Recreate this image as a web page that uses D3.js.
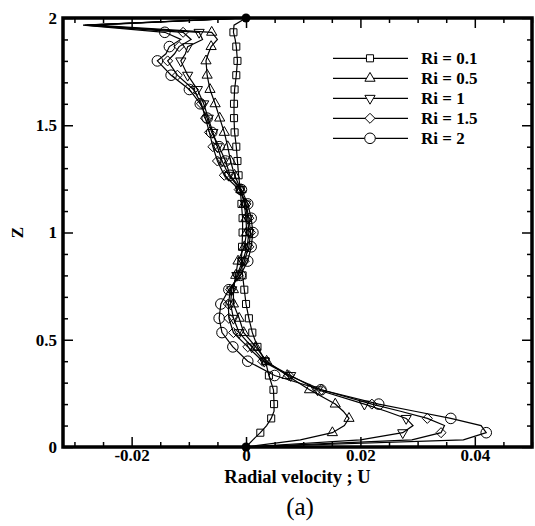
<!DOCTYPE html>
<html>
<head>
<meta charset="utf-8">
<script src="https://cdn.jsdelivr.net/npm/d3@7"></script>
<style>
  html, body { margin: 0; padding: 0; background: #fff; }
  svg { display: block; }
  text { font-family: "Liberation Serif", "Times New Roman", serif; fill: #000; }
</style>
</head>
<body>
<svg id="chart" width="535" height="526"></svg>
<script>
// Axial positions of the profile nodes (z), shared by every series
const zNodes = [0, 0.0333, 0.0667, 0.1, 0.1333, 0.1667, 0.2, 0.2667, 0.3333, 0.4,
  0.4667, 0.5333, 0.6, 0.6667, 0.7333, 0.8, 0.8667, 0.9333, 1, 1.0667, 1.1333, 1.2,
  1.2667, 1.3333, 1.4, 1.4667, 1.5333, 1.6, 1.6667, 1.7333, 1.8, 1.8333, 1.8667,
  1.9, 1.9333, 1.9667, 2];

// Radial velocity U at each node, one array per Richardson number
const uRi01 = [0, 0.0012, 0.0025, 0.0036, 0.0044, 0.0049, 0.0049, 0.0048, 0.0040, 0.0034,
  0.0020, 0.0011, 0.0005, 0.0000, -0.0003, -0.0006, -0.0008, -0.0007, -0.0006, -0.0006,
  -0.0008, -0.0010, -0.0013, -0.0015, -0.0017, -0.0020, -0.0021, -0.0021, -0.0020,
  -0.0017, -0.0015, -0.0016, -0.0017, -0.0019, -0.0022, -0.0021, 0];
const uRi05 = [0, 0.0095, 0.0151, 0.0172, 0.0180, 0.0170, 0.0156, 0.0111, 0.0072, 0.0036,
  0.0017, -0.0004, -0.0012, -0.0022, -0.0022, -0.0018, -0.0014, -0.0003, 0.0001, 0.0000,
  -0.0003, -0.0009, -0.0020, -0.0027, -0.0032, -0.0038, -0.0046, -0.0054, -0.0063,
  -0.0068, -0.0070, -0.0066, -0.0061, -0.0050, -0.0060, -0.0265, 0];
const uRi1 = [0, 0.0200, 0.0274, 0.0292, 0.0280, 0.0245, 0.0207, 0.0125, 0.0078, 0.0032,
  0.0010, -0.0012, -0.0022, -0.0027, -0.0025, -0.0016, -0.0006, 0.0002, 0.0005, 0.0003,
  -0.0001, -0.0010, -0.0030, -0.0042, -0.0050, -0.0058, -0.0066, -0.0074, -0.0085,
  -0.0102, -0.0114, -0.0106, -0.0102, -0.0076, -0.0082, -0.0278, 0];
const uRi15 = [0, 0.0290, 0.0341, 0.0347, 0.0317, 0.0270, 0.0220, 0.0132, 0.0075, 0.0029,
  0.0003, -0.0022, -0.0030, -0.0031, -0.0027, -0.0014, -0.0003, 0.0005, 0.0008, 0.0005,
  0.0000, -0.0012, -0.0038, -0.0050, -0.0058, -0.0064, -0.0071, -0.0078, -0.0092,
  -0.0120, -0.0137, -0.0125, -0.0117, -0.0096, -0.0110, -0.0282, 0];
const uRi2 = [0, 0.0380, 0.0420, 0.0411, 0.0358, 0.0295, 0.0232, 0.0131, 0.0050, 0.0003,
  -0.0023, -0.0042, -0.0047, -0.0044, -0.0030, -0.0010, 0.0003, 0.0009, 0.0012, 0.0009,
  0.0003, -0.0008, -0.0028, -0.0036, -0.0047, -0.0060, -0.0068, -0.0080, -0.0099,
  -0.0131, -0.0155, -0.0140, -0.0134, -0.0114, -0.0142, -0.0285, 0];

const riValues = [0.1, 0.5, 1, 1.5, 2];
const seriesU = [uRi01, uRi05, uRi1, uRi15, uRi2];

const xTickValues = [-0.02, 0, 0.02, 0.04];
const xTickLabels = ["-0.02", "0", "0.02", "0.04"];
const yTickValues = [0, 0.5, 1, 1.5, 2];
const yTickLabels = ["0", "0.5", "1", "1.5", "2"];

const xTitle = "Radial velocity ; U";
const yTitle = "Z";
const caption = "(a)";

// ---- layout ----
const plotLeft = 63, plotRight = 532, plotTop = 18, plotBottom = 447;
const serif = '"Liberation Serif", "Times New Roman", serif';
const svg = d3.select("#chart");

const x = d3.scaleLinear().domain([-0.032, 0.05]).range([plotLeft, plotRight]);
const y = d3.scaleLinear().domain([0, 2]).range([plotBottom, plotTop]);

// marker shapes per series
const symbols = [
  d3.symbol().type(d3.symbolSquare).size(50),
  d3.symbol().type(d3.symbolTriangle).size(45),
  d3.symbol().type(d3.symbolTriangle).size(45),
  d3.symbol().type(d3.symbolDiamond2).size(64),
  d3.symbol().type(d3.symbolCircle).size(88)
];
const rotations = [0, 0, 180, 0, 0];

const isMarkerNode = (z) => z > 0 && z < 2 && Math.abs(z * 15 - Math.round(z * 15)) < 0.01;

// ---- minor / major ticks on all four sides (inward) ----
const xMinor = d3.range(-0.03, 0.0501, 0.005).filter(v => xTickValues.every(t => Math.abs(t - v) > 1e-9));
const yMinor = d3.range(0, 2.001, 0.1).filter(v => yTickValues.every(t => Math.abs(t - v) > 1e-9));

function tickGroup(axis, tr) {
  const g = svg.append("g").attr("transform", tr).call(axis);
  g.select(".domain").remove();
  g.selectAll(".tick line").attr("stroke", "#000").attr("stroke-width", 1.5);
  g.selectAll("text").attr("font-size", 17).attr("font-weight", "bold")
    .attr("fill", "#000").attr("font-family", serif);
  return g;
}

// bottom
tickGroup(d3.axisBottom(x).tickValues(xMinor).tickSize(-5).tickFormat(""), `translate(0,${plotBottom})`);
tickGroup(d3.axisBottom(x).tickValues(xTickValues).tickSize(-10).tickPadding(2)
  .tickFormat((d, i) => xTickLabels[i]), `translate(0,${plotBottom})`);
// top
tickGroup(d3.axisTop(x).tickValues(xMinor).tickSize(-5).tickFormat(""), `translate(0,${plotTop})`);
tickGroup(d3.axisTop(x).tickValues(xTickValues).tickSize(-10).tickFormat(""), `translate(0,${plotTop})`);
// left
tickGroup(d3.axisLeft(y).tickValues(yMinor).tickSize(-5).tickFormat(""), `translate(${plotLeft},0)`);
tickGroup(d3.axisLeft(y).tickValues(yTickValues).tickSize(-10).tickPadding(6)
  .tickFormat((d, i) => yTickLabels[i]), `translate(${plotLeft},0)`);
// right
tickGroup(d3.axisRight(y).tickValues(yMinor).tickSize(-5).tickFormat(""), `translate(${plotRight},0)`);
tickGroup(d3.axisRight(y).tickValues(yTickValues).tickSize(-10).tickFormat(""), `translate(${plotRight},0)`);

// ---- profiles ----
const line = d3.line().x(d => x(d.u)).y(d => y(d.z));
const plot = svg.append("g");

seriesU.forEach((us, s) => {
  const pts = zNodes.map((z, i) => ({ z, u: us[i] }));
  plot.append("path").datum(pts)
    .attr("d", line)
    .attr("fill", "none").attr("stroke", "#000").attr("stroke-width", 1.2)
    .attr("stroke-linejoin", "miter");
  plot.selectAll(null).data(pts.filter(p => isMarkerNode(p.z))).enter()
    .append("path")
    .attr("d", symbols[s])
    .attr("transform", p => `translate(${x(p.u)},${y(p.z)}) rotate(${rotations[s]})`)
    .attr("fill", "none").attr("stroke", "#000").attr("stroke-width", 1);
});

// wall points (no-slip ends)
const wallPoints = [{ z: 0, u: 0 }, { z: 2, u: 0 }];
plot.selectAll(null).data(wallPoints).enter().append("circle")
  .attr("cx", d => x(d.u)).attr("cy", d => y(d.z)).attr("r", 4.5).attr("fill", "#000");

// ---- frame ----
svg.append("rect")
  .attr("x", plotLeft).attr("y", plotTop)
  .attr("width", plotRight - plotLeft).attr("height", plotBottom - plotTop)
  .attr("fill", "none").attr("stroke", "#000").attr("stroke-width", 3.5);

// ---- legend ----
const legend = svg.append("g");
const legY0 = 58.3, legDy = 20;
riValues.forEach((ri, s) => {
  const ly = legY0 + s * legDy;
  legend.append("line").attr("x1", 333).attr("x2", 408).attr("y1", ly).attr("y2", ly)
    .attr("stroke", "#000").attr("stroke-width", 1.2);
  legend.append("path").attr("d", symbols[s])
    .attr("transform", `translate(370,${ly}) rotate(${rotations[s]})`)
    .attr("fill", "#fff").attr("stroke", "#000").attr("stroke-width", 1);
  legend.append("text").attr("x", 421).attr("y", ly + 6)
    .attr("font-size", 17).attr("font-weight", "bold")
    .text(`Ri = ${ri}`);
});

// ---- titles ----
svg.append("text").attr("x", (plotLeft + plotRight) / 2).attr("y", 483)
  .attr("text-anchor", "middle").attr("font-size", 18.5).attr("font-weight", "bold")
  .text(xTitle);
svg.append("text").attr("transform", `translate(23,${(plotTop + plotBottom) / 2}) rotate(-90)`)
  .attr("text-anchor", "middle").attr("font-size", 17).attr("font-weight", "bold")
  .text(yTitle);
svg.append("text").attr("x", 300).attr("y", 515)
  .attr("text-anchor", "middle").attr("font-size", 25)
  .text(caption);
</script>
</body>
</html>
